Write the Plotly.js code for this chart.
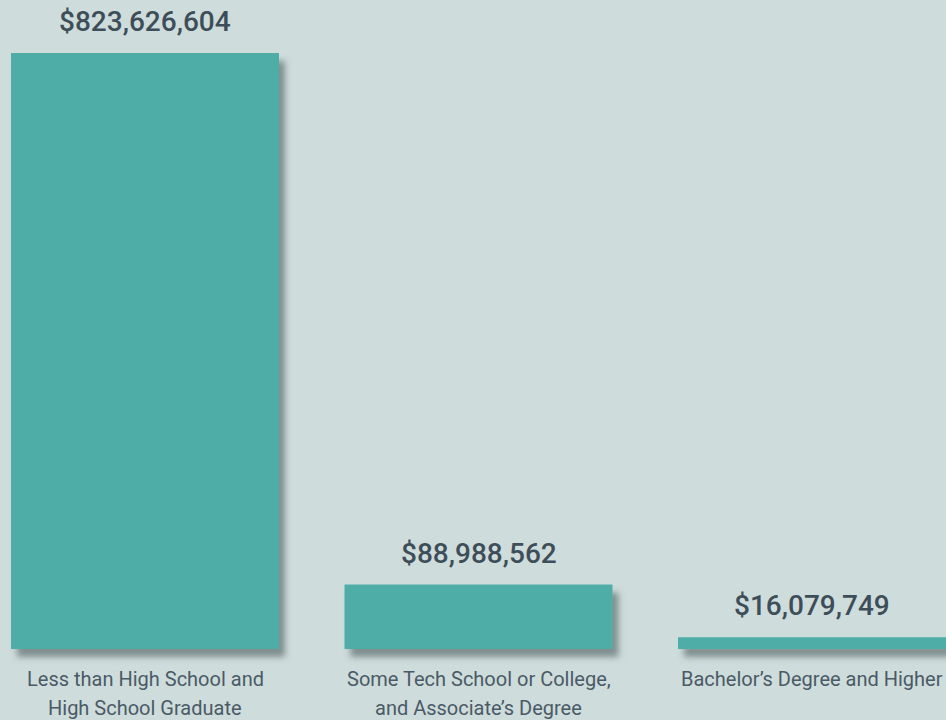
<!DOCTYPE html>
<html>
<head>
<meta charset="utf-8">
<script src="https://cdn.plot.ly/plotly-3.0.1.min.js"></script>
<style>
html, body { margin: 0; padding: 0; background: #cfdcdc; }
#chart { width: 946px; height: 720px; }
</style>
</head>
<body>
<div id="chart"></div>
<script>
const categories = ["Less than High School and<br>High School Graduate", "Some Tech School or College,<br>and Associate’s Degree", "Bachelor’s Degree and Higher"];
const values = [823626604, 88988562, 16079749];
const valueLabels = ["$823,626,604", "$88,988,562", "$16,079,749"];

const bg = '#cfdcdc';
const barColor = '#4fada8';
const textColor = '#3e4e59';
const labelColor = '#4a5a66';
const font = 'Roboto, "Liberation Sans", sans-serif';

const trace = {
  type: 'bar',
  x: categories,
  y: values,
  width: 0.8036,
  cliponaxis: false,
  marker: { color: barColor, line: { width: 0 } },
  hoverinfo: 'skip'
};

const annotations = categories.map((c, i) => ({
  x: c, y: values[i], xref: 'x', yref: 'y',
  text: valueLabels[i], showarrow: false,
  yanchor: 'bottom', yshift: 13,
  font: { family: font, size: 28, color: textColor, weight: 500 }
}));

categories.forEach((c, i) => {
  c.split('<br>').forEach((line, j) => {
    annotations.push({
      x: c, y: 0, xref: 'x', yref: 'paper',
      text: line, showarrow: false,
      yanchor: 'top', yshift: -16 - j * 28.5,
      font: { family: font, size: 20, color: labelColor }
    });
  });
});

const layout = {
  width: 946, height: 720,
  margin: { l: 0, r: 0, t: 0, b: 71, pad: 0 },
  paper_bgcolor: bg, plot_bgcolor: bg,
  showlegend: false,
  xaxis: {
    type: 'category', range: [-0.4348, 2.4018],
    showgrid: false, zeroline: false, showline: false, ticks: '',
    showticklabels: false, fixedrange: true
  },
  yaxis: {
    range: [0, 896870000], visible: false, showgrid: false, zeroline: false, fixedrange: true
  },
  annotations: annotations
};

Plotly.newPlot('chart', [trace], layout, { displayModeBar: false, staticPlot: true }).then(() => {
  const svg = document.querySelector('#chart .main-svg');
  const ns = 'http://www.w3.org/2000/svg';
  let defs = svg.querySelector('defs');
  if (!defs) { defs = document.createElementNS(ns, 'defs'); svg.insertBefore(defs, svg.firstChild); }
  const f = document.createElementNS(ns, 'filter');
  f.setAttribute('id', 'barShadow');
  f.setAttribute('filterUnits', 'userSpaceOnUse');
  f.setAttribute('x', '-100'); f.setAttribute('y', '-100');
  f.setAttribute('width', '2000'); f.setAttribute('height', '2000');
  const ds = document.createElementNS(ns, 'feDropShadow');
  ds.setAttribute('dx', '6'); ds.setAttribute('dy', '8');
  ds.setAttribute('stdDeviation', '3');
  ds.setAttribute('flood-color', '#3f5050');
  ds.setAttribute('flood-opacity', '0.55');
  f.appendChild(ds);
  defs.appendChild(f);
  document.querySelectorAll('#chart [clip-path]').forEach(g => {
    if (g.closest('.cartesianlayer')) g.removeAttribute('clip-path');
  });
  document.querySelectorAll('#chart .bars .point path').forEach(p => p.setAttribute('filter', 'url(#barShadow)'));
});
</script>
</body>
</html>
